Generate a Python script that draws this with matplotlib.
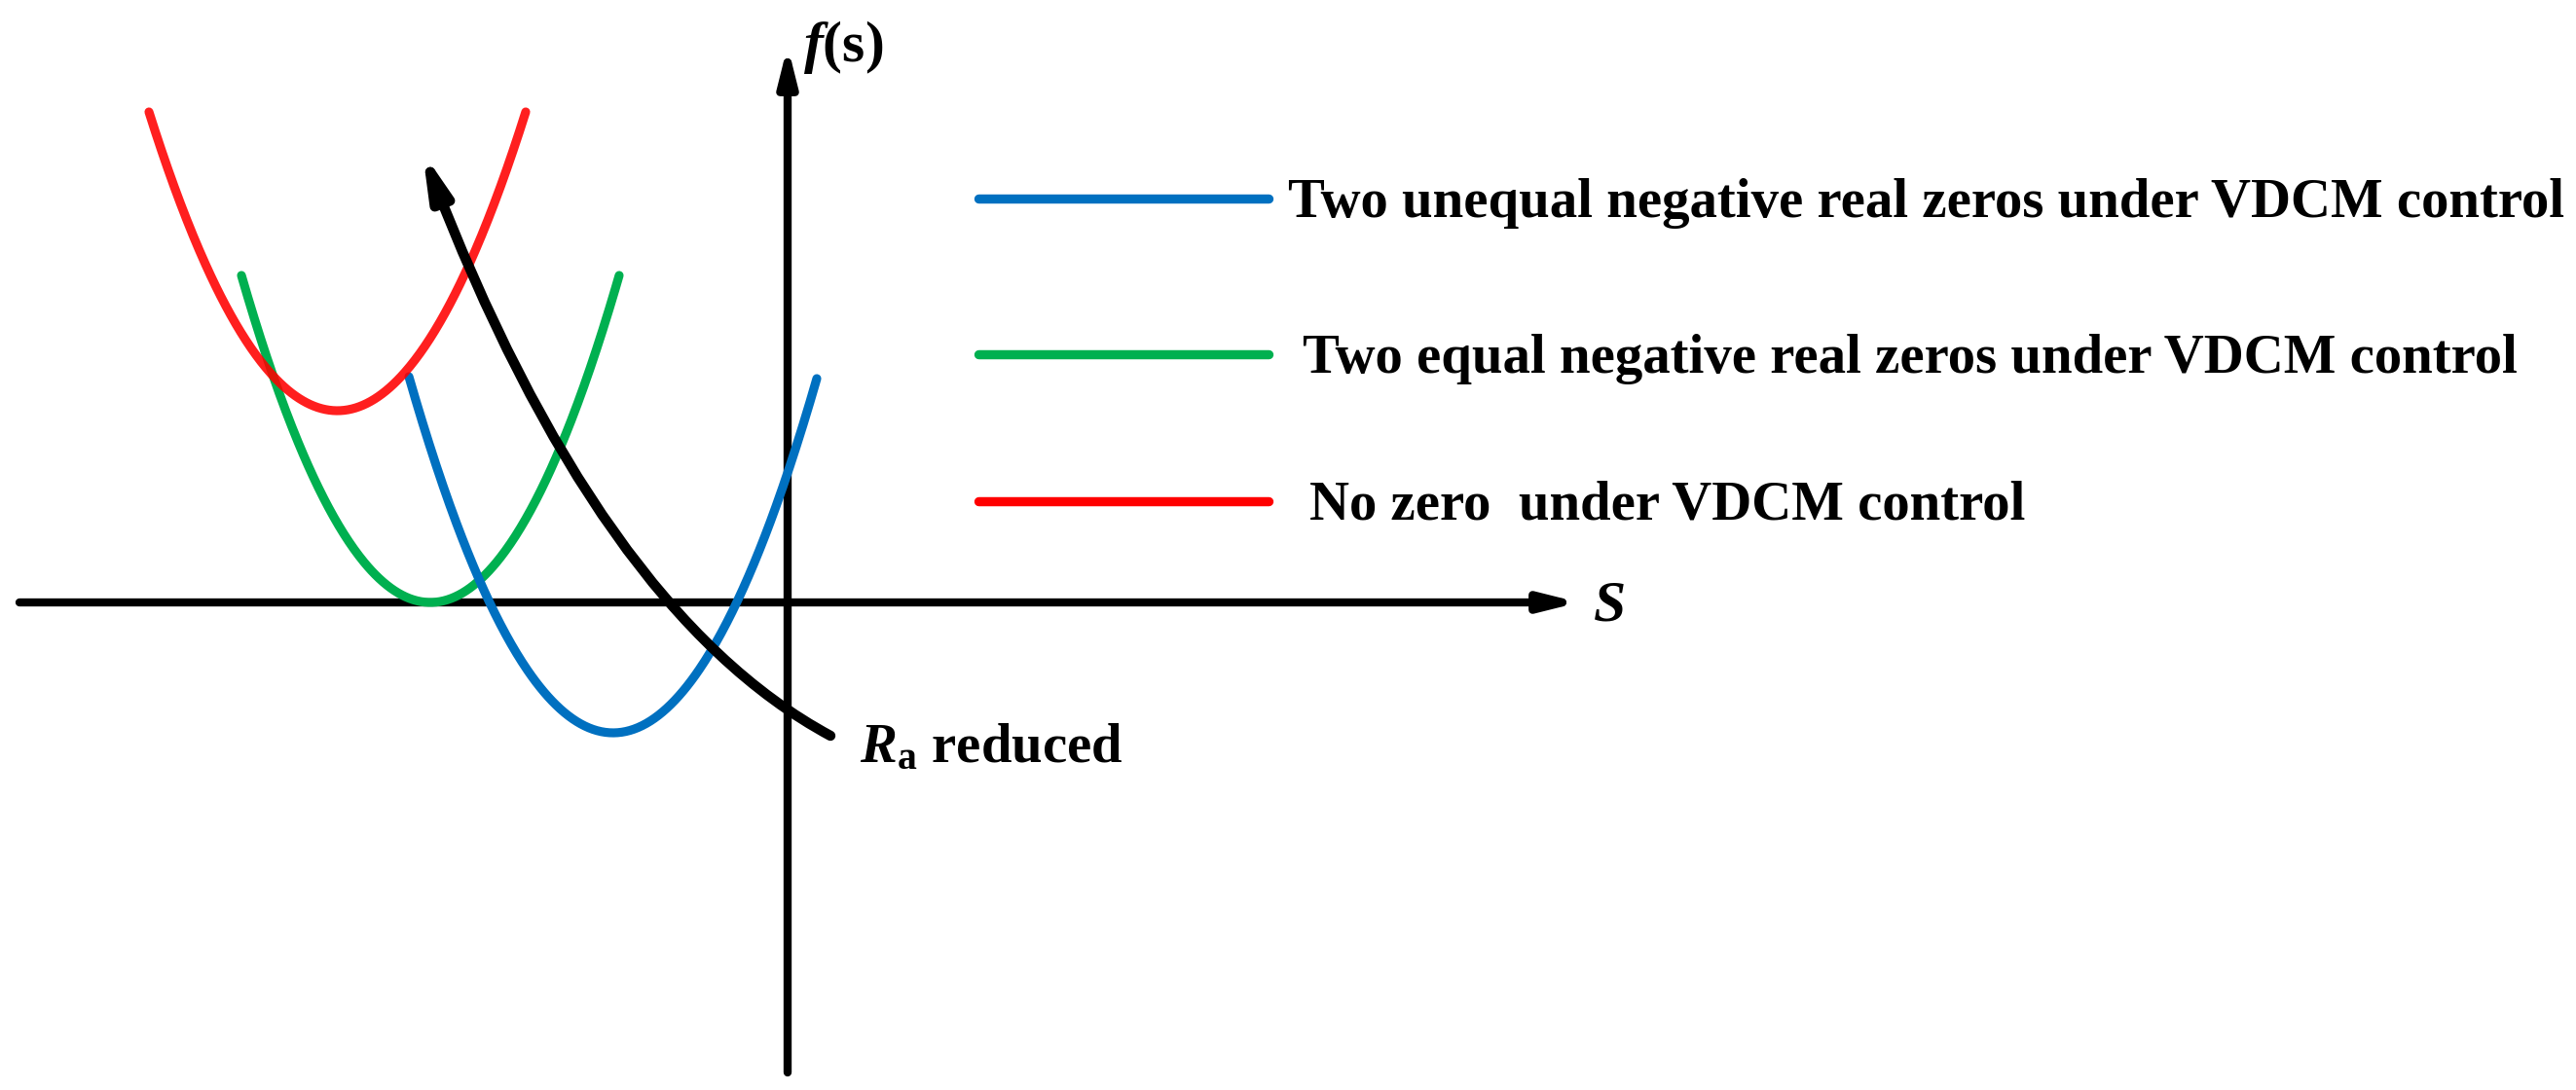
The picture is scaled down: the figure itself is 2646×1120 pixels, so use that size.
import numpy as np
import matplotlib
matplotlib.use('Agg')
import matplotlib.pyplot as plt
from matplotlib.patches import FancyArrowPatch
from matplotlib.path import Path

plt.rcParams['font.family'] = ['Liberation Serif', 'DejaVu Serif']
plt.rcParams['mathtext.fontset'] = 'custom'
plt.rcParams['mathtext.rm'] = 'Liberation Serif:bold'
plt.rcParams['mathtext.bf'] = 'Liberation Serif:bold'
plt.rcParams['mathtext.it'] = 'Liberation Serif:italic:bold'
plt.rcParams['mathtext.bfit'] = 'Liberation Serif:italic:bold'

# three points: left end, vertex, right end  (s, f(s))
red_s = [-6.56, -4.62, -2.69]
red_f = [5.04, 1.97, 5.04]
green_s = [-5.61, -3.67, -1.73]
green_f = [3.36, 0.0, 3.36]
blue_s = [-3.89, -1.79, 0.30]
blue_f = [2.32, -1.34, 2.30]

# "Ra reduced" arrow: tail, control point, tip
ra_arrow_s = [0.44, -1.94, -3.75]
ra_arrow_f = [-1.37, -0.09, 4.63]

labels = ['Two unequal negative real zeros under VDCM control',
          'Two equal negative real zeros under VDCM control',
          'No zero  under VDCM control']
colors = ['#0070C0', '#00B050', '#FF0000']

FONTSIZE = 40.9

fig = plt.figure(figsize=(26.46, 11.2), dpi=100)
ax = fig.add_axes([0, 0, 1, 1])
ax.set_xlim(-8.09, 18.37)
ax.set_ylim(-5.01, 6.19)
ax.axis('off')

# axes with arrow heads
for start, end in [((-7.89, 0), (8.13, 0)), ((0, -4.83), (0, 5.72))]:
    ax.add_patch(FancyArrowPatch(start, end, arrowstyle='-|>,head_length=22,head_width=5.5',
                                 mutation_scale=1, lw=6, color='black',
                                 shrinkA=0, shrinkB=0, capstyle='round', zorder=2))

# parabolas
for s_pts, f_pts, c, a in [(green_s, green_f, colors[1], 1.0),
                           (blue_s, blue_f, colors[0], 1.0),
                           (red_s, red_f, colors[2], 0.88)]:
    coef = np.polyfit(s_pts, f_pts, 2)
    s = np.linspace(s_pts[0], s_pts[-1], 300)
    ax.plot(s, np.polyval(coef, s), color=c, lw=6.6, alpha=a,
            solid_capstyle='round', zorder=3)

# curved arrow
verts = list(zip(ra_arrow_s, ra_arrow_f))
path = Path(verts, [Path.MOVETO, Path.CURVE3, Path.CURVE3])
ax.add_patch(FancyArrowPatch(path=path, arrowstyle='-|>,head_length=25,head_width=6',
                             mutation_scale=1, lw=7.5, color='black',
                             capstyle='round', zorder=4))

# legend drawn by hand
legend_y = [4.15, 2.55, 1.04]
text_x = [5.14, 5.29, 5.36]
for lab, c, y, tx in zip(labels, colors, legend_y, text_x):
    ax.plot([1.96, 4.94], [y, y], color=c, lw=6.8, solid_capstyle='round')
    ax.text(tx, y - 0.19, lab, fontsize=FONTSIZE, fontweight='bold',
            ha='left', va='baseline')

ax.text(0.16, 5.56, r'$\mathbfit{f}$(s)', fontsize=43, fontweight='bold',
        ha='left', va='baseline')
ax.text(8.28, -0.18, 'S', fontsize=43, fontweight='bold', fontstyle='italic',
        ha='left', va='baseline')
ax.text(0.74, -1.64, r'$\mathbfit{R}_{\mathbf{a}}$ reduced', fontsize=FONTSIZE,
        fontweight='bold', ha='left', va='baseline')

fig.savefig('out.png', dpi=100)
